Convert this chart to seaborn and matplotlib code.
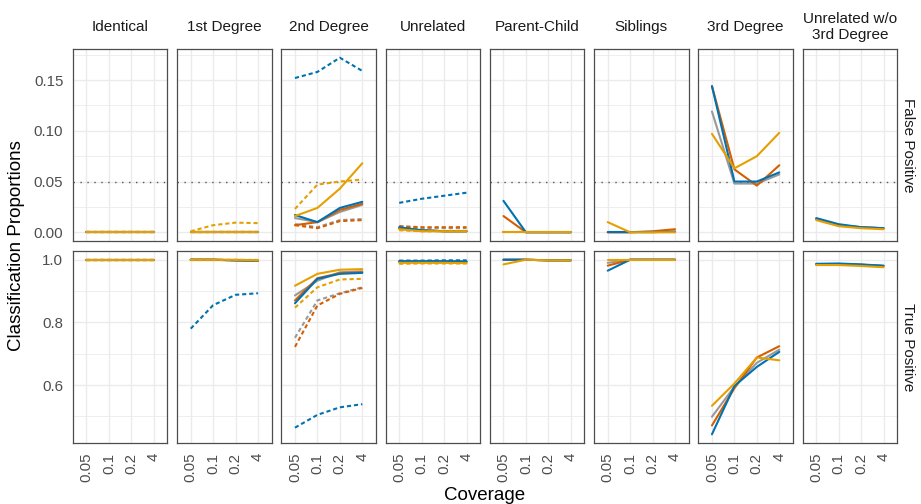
import numpy as np
import pandas as pd
import matplotlib
matplotlib.use("Agg")
import matplotlib.pyplot as plt
import seaborn as sns

coverage = ["0.05", "0.1", "0.2", "4"]
relationships = ["Identical", "1st Degree", "2nd Degree", "Unrelated",
                 "Parent-Child", "Siblings", "3rd Degree", "Unrelated w/o\n3rd Degree"]
metrics = ["False Positive", "True Positive"]
methods = ["gray", "vermilion", "blue", "orange"]
palette = {"gray": "#999999", "vermilion": "#D55E00", "blue": "#0072B2", "orange": "#E69F00"}

# one row per relationship panel, one value per coverage level (None = not shown)
fp_gray_solid = [[0, 0, 0, 0], [0, 0, 0, 0], [0.014, 0.010, 0.020, 0.027], [0.004, 0.002, 0.001, 0.001],
                 [0, 0, 0, 0], [0, 0, 0, 0.001], [0.119, 0.048, 0.048, 0.057], [0.013, 0.007, 0.005, 0.004]]
fp_verm_solid = [[0, 0, 0, 0], [0, 0, 0, 0], [0.007, 0.010, 0.022, 0.028], [0.004, 0.002, 0.001, 0.001],
                 [0.016, 0, 0, 0], [0, 0, 0.001, 0.003], [0.144, 0.062, 0.046, 0.066], [0.013, 0.007, 0.005, 0.004]]
fp_blue_solid = [[0, 0, 0, 0], [0, 0, 0, 0], [0.017, 0.010, 0.024, 0.030], [0.005, 0.002, 0.001, 0.001],
                 [0.031, 0, 0, 0], [0, 0, 0, 0], [0.144, 0.050, 0.050, 0.059], [0.014, 0.008, 0.005, 0.004]]
fp_orange_solid = [[0, 0, 0, 0], [0, 0, 0, 0], [0.016, 0.024, 0.043, 0.068], [0.003, 0.001, 0.001, 0.001],
                   [0, 0, 0, 0], [0.010, 0, 0, 0], [0.097, 0.063, 0.075, 0.098], [0.012, 0.006, 0.004, 0.003]]
fp_gray_dot = [[0, 0, 0, 0], [0, 0, 0, 0], [0.008, 0.005, 0.012, 0.013], [0.006, 0.004, 0.004, 0.004],
               None, None, None, None]
fp_verm_dot = [[0, 0, 0, 0], [0, 0, 0, 0], [0.007, 0.004, 0.011, 0.012], [0.006, 0.005, 0.005, 0.005],
               None, None, None, None]
fp_blue_dot = [[0, 0, 0, 0], [0, 0, 0, 0], [0.152, 0.158, 0.172, 0.159], [0.029, 0.033, 0.036, 0.039],
               None, None, None, None]
fp_orange_dot = [[0, 0, 0, 0], [0.001, 0.007, 0.0095, 0.009], [0.023, 0.047, 0.050, 0.052], [0.002, 0.001, 0.001, 0.001],
                 None, None, None, None]

tp_gray_solid = [[1, 1, 1, 1], [1.0, 1.0, 0.998, 0.997], [0.886, 0.933, 0.960, 0.963], [0.995, 0.995, 0.995, 0.994],
                 [1.0, 1.0, 0.998, 0.998], [0.990, 1, 1, 1], [0.499, 0.595, 0.671, 0.713], [0.985, 0.986, 0.984, 0.980]]
tp_verm_solid = [[1, 1, 1, 1], [1.0, 1.0, 0.998, 0.997], [0.870, 0.941, 0.957, 0.960], [0.995, 0.995, 0.995, 0.994],
                 [1.0, 1.0, 0.998, 0.998], [0.981, 1, 1, 1], [0.471, 0.590, 0.688, 0.724], [0.985, 0.986, 0.984, 0.980]]
tp_blue_solid = [[1, 1, 1, 1], [1.0, 1.0, 0.998, 0.997], [0.861, 0.939, 0.955, 0.958], [0.995, 0.995, 0.995, 0.994],
                 [1.0, 1.0, 0.998, 0.998], [0.965, 1, 1, 1], [0.443, 0.597, 0.658, 0.706], [0.987, 0.988, 0.985, 0.981]]
tp_orange_solid = [[1, 1, 1, 1], [1.0, 1.0, 1.0, 0.998], [0.917, 0.955, 0.968, 0.970], [0.990, 0.990, 0.990, 0.989],
                   [0.985, 1.0, 0.998, 0.998], [1, 1, 1, 1], [0.534, 0.605, 0.688, 0.679], [0.983, 0.983, 0.980, 0.976]]
tp_gray_dot = [[1, 1, 1, 1], [1, 1, 1, 1], [0.751, 0.870, 0.893, 0.912], [0.995, 0.995, 0.995, 0.995],
               None, None, None, None]
tp_verm_dot = [[1, 1, 1, 1], [1, 1, 1, 1], [0.722, 0.854, 0.891, 0.910], [0.995, 0.995, 0.995, 0.995],
               None, None, None, None]
tp_blue_dot = [[1, 1, 1, 1], [0.780, 0.855, 0.888, 0.893], [0.464, 0.505, 0.529, 0.539], [0.997, 0.997, 0.998, 0.998],
               None, None, None, None]
tp_orange_dot = [[1, 1, 1, 1], [1, 1, 1, 1], [0.847, 0.912, 0.937, 0.939], [0.987, 0.988, 0.988, 0.988],
                 None, None, None, None]

series = {
    "False Positive": {("gray", "solid"): fp_gray_solid, ("vermilion", "solid"): fp_verm_solid,
                       ("blue", "solid"): fp_blue_solid, ("orange", "solid"): fp_orange_solid,
                       ("gray", "dotted"): fp_gray_dot, ("vermilion", "dotted"): fp_verm_dot,
                       ("blue", "dotted"): fp_blue_dot, ("orange", "dotted"): fp_orange_dot},
    "True Positive": {("gray", "solid"): tp_gray_solid, ("vermilion", "solid"): tp_verm_solid,
                      ("blue", "solid"): tp_blue_solid, ("orange", "solid"): tp_orange_solid,
                      ("gray", "dotted"): tp_gray_dot, ("vermilion", "dotted"): tp_verm_dot,
                      ("blue", "dotted"): tp_blue_dot, ("orange", "dotted"): tp_orange_dot},
}

rows = []
for metric, tab in series.items():
    for (method, lt), arr in tab.items():
        for i, rel in enumerate(relationships):
            if arr[i] is None:
                continue
            for j, cov in enumerate(coverage):
                rows.append((metric, rel, method, lt, j, arr[i][j]))
df = pd.DataFrame(rows, columns=["metric", "rel", "method", "type", "pos", "value"])

sns.set_theme(style="white")
plt.rcParams["font.family"] = ["Liberation Sans", "DejaVu Sans"]

fig, axes = plt.subplots(2, 8, figsize=(9.21, 5.04), dpi=100)
fig.subplots_adjust(left=73/921, right=897/921, top=1-49/504, bottom=1-443/504,
                    wspace=0.106, hspace=0.052)

yticks = {"False Positive": [0, 0.05, 0.10, 0.15], "True Positive": [0.6, 0.8, 1.0]}
ylabels = {"False Positive": ["0.00", "0.05", "0.10", "0.15"], "True Positive": ["0.6", "0.8", "1.0"]}
yminor = {"False Positive": [0.025, 0.075, 0.125, 0.175], "True Positive": [0.5, 0.7, 0.9]}

for r, metric in enumerate(metrics):
    dm = df[df["metric"] == metric]
    lo, hi = dm["value"].min(), dm["value"].max()
    pad = 0.05 * (hi - lo)
    for c, rel in enumerate(relationships):
        ax = axes[r, c]
        d = dm[dm["rel"] == rel]
        ax.set_yticks(yticks[metric])
        ax.set_yticks(yminor[metric], minor=True)
        ax.set_xticks(range(len(coverage)))
        ax.grid(which="major", color="#EBEBEB", lw=1.0)
        ax.grid(which="minor", axis="y", color="#EBEBEB", lw=0.6)
        ax.set_axisbelow(True)
        if metric == "False Positive":
            ax.axhline(0.05, color="#555555", lw=1.0, ls=(0, (1, 4)), zorder=1.5)
        sns.lineplot(data=d, x="pos", y="value", hue="method", style="type",
                     hue_order=methods, style_order=["solid", "dotted"], palette=palette,
                     dashes={"solid": "", "dotted": (2.0, 1.4)}, linewidth=1.5,
                     estimator=None, legend=False, ax=ax)
        ax.set_xlim(-0.6, 3.6)
        ax.set_ylim(lo - pad, hi + pad)
        ax.set_xlabel("")
        ax.set_ylabel("")
        for s in ax.spines.values():
            s.set_color("#4D4D4D")
            s.set_linewidth(0.9)
        ax.tick_params(which="major", length=3.5, width=0.8, color="#333333",
                       labelsize=10.8, labelcolor="#4D4D4D", direction="out")
        ax.tick_params(which="minor", length=0)
        if r == 0:
            ax.tick_params(axis="x", bottom=False, labelbottom=False)
            ax.text(0.5, 1 + 22/192, rel, transform=ax.transAxes, ha="center", va="center",
                    fontsize=11, color="#1A1A1A", linespacing=1.1)
        else:
            ax.set_xticklabels(coverage, rotation=90)
        if c == 0:
            ax.set_yticklabels(ylabels[metric])
        else:
            ax.tick_params(axis="y", left=False, labelleft=False)
        if c == len(relationships) - 1:
            ax.text(1 + 11/94, 0.5, metric, transform=ax.transAxes, rotation=-90,
                    ha="center", va="center", fontsize=11, color="#1A1A1A")

fig.text(17/921, 1 - 246/504, "Classification Proportions", rotation=90,
         ha="center", va="center", fontsize=13.5, color="black")
fig.text(485/921, 1 - 495/504, "Coverage", ha="center", va="center",
         fontsize=13.5, color="black")

fig.savefig("out.png", dpi=100)
